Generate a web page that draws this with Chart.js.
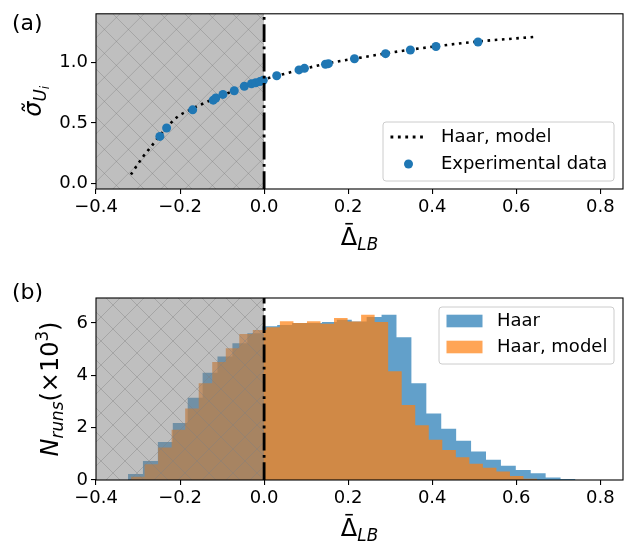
<!DOCTYPE html>
<html>
<head>
<meta charset="utf-8">
<script src="https://cdn.jsdelivr.net/npm/chart.js@4.4.0/dist/chart.umd.min.js"></script>
<style>
  html, body { margin: 0; padding: 0; background: #fff; }
  #wrap { position: relative; width: 641px; height: 551px; }
  #wrap canvas { position: absolute; left: 0; }
  #topChart { top: 0; }
  #bottomChart { top: 270px; }
</style>
</head>
<body>
<div id="wrap">
  <canvas id="topChart" width="641" height="270"></canvas>
  <canvas id="bottomChart" width="641" height="281"></canvas>
</div>
<script>
const FONT = '"DejaVu Sans", sans-serif';
const X_MIN = -0.4;
const X_MAX = 0.854;
const X_TICKS = [-0.4, -0.2, 0.0, 0.2, 0.4, 0.6, 0.8];
const SHADE_FROM = -0.4;
const SHADE_TO = 0.0;

// (a) model curve and measured points
const MODEL_X = [-0.317, -0.290, -0.266, -0.248, -0.209, -0.168, -0.125, -0.086, -0.040, 0.000,
                 0.040, 0.078, 0.150, 0.241, 0.320, 0.405, 0.509, 0.580, 0.642];
const MODEL_Y = [0.074, 0.212, 0.317, 0.397, 0.542, 0.622, 0.690, 0.746, 0.808, 0.860,
                 0.897, 0.931, 0.990, 1.045, 1.090, 1.130, 1.172, 1.192, 1.209];
const EXP_X = [-0.248, -0.232, -0.170, -0.121, -0.115, -0.098, -0.071, -0.047, -0.030, -0.020, -0.010,
               -0.002, 0.030, 0.083, 0.096, 0.146, 0.153, 0.215, 0.289, 0.348, 0.409, 0.509];
const EXP_Y = [0.389, 0.458, 0.608, 0.688, 0.706, 0.735, 0.765, 0.802, 0.823, 0.831, 0.841,
               0.852, 0.889, 0.937, 0.950, 0.984, 0.989, 1.029, 1.071, 1.101, 1.130, 1.167];
const SIGMA_TICKS = [0.0, 0.5, 1.0];

// (b) histograms, counts in thousands
const HAAR_EDGES = [-0.3238, -0.2883, -0.2528, -0.2173, -0.1818, -0.1463, -0.1109, -0.0754, -0.0399, -0.0044,
                    0.0311, 0.0666, 0.1021, 0.1376, 0.1731, 0.2086, 0.2440, 0.2795, 0.3150, 0.3505,
                    0.3860, 0.4215, 0.4570, 0.4925, 0.5280, 0.5635, 0.5989, 0.6344, 0.6699, 0.7054, 0.7409];
const HAAR_COUNTS = [0.23, 0.73, 1.45, 2.18, 3.14, 4.10, 4.72, 5.22, 5.60, 5.87,
                     5.92, 6.00, 6.00, 6.03, 6.12, 6.05, 6.22, 6.31, 5.45, 3.69,
                     2.54, 1.96, 1.50, 1.09, 0.77, 0.54, 0.38, 0.26, 0.10, 0.04];
const MODEL_EDGES = [-0.3166, -0.2844, -0.2522, -0.2200, -0.1878, -0.1556, -0.1234, -0.0912, -0.0590, -0.0268,
                     0.0054, 0.0376, 0.0698, 0.1020, 0.1342, 0.1664, 0.1986, 0.2308, 0.2630, 0.2952,
                     0.3274, 0.3596, 0.3918, 0.4240, 0.4562, 0.4884, 0.5206, 0.5528, 0.5850, 0.6172, 0.6494];
const MODEL_COUNTS = [0.12, 0.60, 1.24, 1.92, 2.73, 3.69, 4.51, 5.03, 5.58, 5.73,
                      5.83, 6.06, 6.00, 6.06, 5.97, 6.19, 6.05, 6.31, 6.03, 4.15,
                      2.86, 2.09, 1.54, 1.15, 0.87, 0.62, 0.47, 0.32, 0.15, 0.05];
const N_TICKS = [0, 2, 4, 6];

function fmtTick(v, digits) {
  return v.toFixed(digits).replace('-', '\u2212');
}

function histPoints(edges, counts) {
  return edges.map((x, i) => ({ x: x, y: i < counts.length ? counts[i] : 0 }));
}

// draw a run of text pieces, each with its own size / style / shift
function drawRich(ctx, parts, x, y, align) {
  let total = 0;
  parts.forEach(p => {
    ctx.font = (p.it ? 'italic ' : '') + p.size + 'px ' + FONT;
    p.w = ctx.measureText(p.t).width;
    total += p.w;
  });
  let cx = align === 'center' ? x - total / 2 : x;
  ctx.textBaseline = 'alphabetic';
  ctx.textAlign = 'left';
  parts.forEach(p => {
    ctx.font = (p.it ? 'italic ' : '') + p.size + 'px ' + FONT;
    ctx.fillText(p.t, cx, y + (p.dy || 0));
    if (p.bar) {
      // overbar, as in \bar{}
      ctx.fillRect(cx + p.w * 0.27, y - p.size * 0.92, p.w * 0.46, 1.6);
    }
    cx += p.w;
  });
}

function drawShade(chart) {
  const { ctx, chartArea: a, scales: { x } } = chart;
  const x0 = Math.max(a.left, x.getPixelForValue(SHADE_FROM));
  const x1 = x.getPixelForValue(SHADE_TO);
  const h = a.bottom - a.top;
  ctx.save();
  ctx.beginPath();
  ctx.rect(x0, a.top, x1 - x0, h);
  ctx.clip();
  ctx.fillStyle = 'rgba(128,128,128,0.5)';
  ctx.fillRect(x0, a.top, x1 - x0, h);
  ctx.strokeStyle = 'rgba(128,128,128,0.4)';
  ctx.lineWidth = 1;
  const step = 24;
  ctx.beginPath();
  for (let c = x0 - h - step; c < x1 + h + step; c += step) {
    ctx.moveTo(c, a.bottom);
    ctx.lineTo(c + h, a.top);
    ctx.moveTo(c, a.top);
    ctx.lineTo(c + h, a.bottom);
  }
  ctx.stroke();
  ctx.restore();
}

function drawZeroLine(chart) {
  const { ctx, chartArea: a, scales: { x } } = chart;
  const px = x.getPixelForValue(SHADE_TO);
  ctx.save();
  ctx.strokeStyle = '#000';
  ctx.lineWidth = 2.8;
  ctx.setLineDash([17.8, 4.4, 2.8, 4.4]);
  ctx.beginPath();
  ctx.moveTo(px, a.bottom);
  ctx.lineTo(px, a.top);
  ctx.stroke();
  ctx.restore();
}

function drawFrame(chart) {
  const { ctx, chartArea: a } = chart;
  ctx.save();
  ctx.strokeStyle = '#000';
  ctx.lineWidth = 1.1;
  ctx.strokeRect(a.left, a.top, a.right - a.left, a.bottom - a.top);
  ctx.restore();
}

function legendBox(ctx, x, y, w, h) {
  const r = 3;
  ctx.save();
  ctx.beginPath();
  ctx.moveTo(x + r, y);
  ctx.arcTo(x + w, y, x + w, y + h, r);
  ctx.arcTo(x + w, y + h, x, y + h, r);
  ctx.arcTo(x, y + h, x, y, r);
  ctx.arcTo(x, y, x + w, y, r);
  ctx.closePath();
  ctx.fillStyle = 'rgba(255,255,255,0.8)';
  ctx.fill();
  ctx.strokeStyle = '#cccccc';
  ctx.lineWidth = 1;
  ctx.stroke();
  ctx.restore();
}

function xLabel(ctx, chart, yBase) {
  const a = chart.chartArea;
  ctx.fillStyle = '#000';
  drawRich(ctx, [
    { t: '\u0394', size: 24, bar: true },
    { t: 'LB', size: 16.8, it: true, dy: 5 }
  ], (a.left + a.right) / 2, yBase, 'center');
}

function axisTicks(ticks, digits) {
  return {
    afterBuildTicks: s => { s.ticks = ticks.map(v => ({ value: v })); },
    ticks: {
      autoSkip: false, maxRotation: 0, color: '#000',
      font: { family: FONT, size: 18 },
      callback: v => fmtTick(v, digits)
    },
    grid: { display: true, drawOnChartArea: false, drawTicks: true, tickLength: 5, color: '#000', lineWidth: 1.1 },
    border: { display: false }
  };
}

function renderTop() {
  const overlay = {
    id: 'overlayTop',
    beforeDatasetsDraw(chart) { drawShade(chart); },
    afterDatasetsDraw(chart) { drawZeroLine(chart); drawFrame(chart); },
    afterDraw(chart) {
      const { ctx, chartArea: a } = chart;
      ctx.save();
      // legend
      const bx = a.right - 9 - 231, by = a.bottom - 8 - 59;
      legendBox(ctx, bx, by, 231, 59);
      const hx = bx + 7.5, r1 = by + 15, r2 = by + 42;
      ctx.strokeStyle = '#000';
      ctx.lineWidth = 2.8;
      ctx.setLineDash([2.8, 4.6]);
      ctx.beginPath(); ctx.moveTo(hx, r1); ctx.lineTo(hx + 36, r1); ctx.stroke();
      ctx.setLineDash([]);
      ctx.fillStyle = '#1f77b4';
      ctx.beginPath(); ctx.arc(hx + 18, r2, 4.5, 0, Math.PI * 2); ctx.fill();
      ctx.fillStyle = '#000';
      ctx.font = '18px ' + FONT;
      ctx.textBaseline = 'middle';
      ctx.textAlign = 'left';
      ctx.fillText('Haar, model', hx + 50.4, r1);
      ctx.fillText('Experimental data', hx + 50.4, r2);
      // axis labels
      xLabel(ctx, chart, 245);
      ctx.save();
      ctx.translate(41, (a.top + a.bottom) / 2);
      ctx.rotate(-Math.PI / 2);
      drawRich(ctx, [
        { t: '\u03c3\u0303', size: 24, it: true },
        { t: 'U', size: 16.8, it: true, dy: 5 },
        { t: 'i', size: 11.8, it: true, dy: 8 }
      ], 0, 0, 'center');
      ctx.restore();
      ctx.font = '22px ' + FONT;
      ctx.textBaseline = 'alphabetic';
      ctx.fillText('(a)', 12, 30);
      ctx.restore();
    }
  };
  new Chart(document.getElementById('topChart'), {
    type: 'scatter',
    data: {
      datasets: [{
        label: 'Experimental data',
        data: EXP_X.map((x, i) => ({ x: x, y: EXP_Y[i] })),
        backgroundColor: '#1f77b4',
        borderColor: '#1f77b4',
        pointRadius: 4.5,
        pointBorderWidth: 0,
        order: 1
      }, {
        label: 'Haar, model',
        data: MODEL_X.map((x, i) => ({ x: x, y: MODEL_Y[i] })),
        showLine: true,
        borderColor: '#000',
        borderWidth: 2.6,
        borderDash: [2.6, 4.6],
        borderCapStyle: 'butt',
        pointRadius: 0,
        cubicInterpolationMode: 'monotone',
        fill: false,
        order: 2
      }]
    },
    options: {
      responsive: false,
      animation: false,
      events: [],
      layout: { padding: { top: 7, right: 18, left: 0, bottom: 0 } },
      plugins: { legend: { display: false }, tooltip: { enabled: false } },
      scales: {
        x: Object.assign({ type: 'linear', min: X_MIN, max: X_MAX,
          afterFit: s => { s.height = 81; } }, axisTicks(X_TICKS, 1)),
        y: Object.assign({ type: 'linear', min: -0.045, max: 1.40,
          afterFit: s => { s.width = 96; } }, axisTicks(SIGMA_TICKS, 1))
      }
    },
    plugins: [overlay]
  });
}

function renderBottom() {
  const overlay = {
    id: 'overlayBottom',
    afterDatasetsDraw(chart) { drawShade(chart); drawZeroLine(chart); drawFrame(chart); },
    afterDraw(chart) {
      const { ctx, chartArea: a } = chart;
      ctx.save();
      const bx = a.right - 9 - 175, by = a.top + 9;
      legendBox(ctx, bx, by, 175, 57);
      const hx = bx + 7.5, r1 = by + 14, r2 = by + 40;
      ctx.fillStyle = 'rgba(31,119,180,0.7)';
      ctx.fillRect(hx, r1 - 6.3, 36, 12.6);
      ctx.fillStyle = 'rgba(255,127,14,0.7)';
      ctx.fillRect(hx, r2 - 6.3, 36, 12.6);
      ctx.fillStyle = '#000';
      ctx.font = '18px ' + FONT;
      ctx.textBaseline = 'middle';
      ctx.textAlign = 'left';
      ctx.fillText('Haar', hx + 50.4, r1);
      ctx.fillText('Haar, model', hx + 50.4, r2);
      xLabel(ctx, chart, 266);
      ctx.save();
      ctx.translate(58, (a.top + a.bottom) / 2);
      ctx.rotate(-Math.PI / 2);
      drawRich(ctx, [
        { t: 'N', size: 24, it: true },
        { t: 'runs', size: 16.8, it: true, dy: 5 },
        { t: '(\u00d710', size: 24 },
        { t: '3', size: 16.8, dy: -10 },
        { t: ')', size: 24 }
      ], 0, 0, 'center');
      ctx.restore();
      ctx.font = '22px ' + FONT;
      ctx.textBaseline = 'alphabetic';
      ctx.fillText('(b)', 12, 29);
      ctx.restore();
    }
  };
  new Chart(document.getElementById('bottomChart'), {
    type: 'line',
    data: {
      datasets: [{
        label: 'Haar, model',
        data: histPoints(MODEL_EDGES, MODEL_COUNTS),
        stepped: true,
        fill: 'origin',
        backgroundColor: 'rgba(255,127,14,0.7)',
        borderWidth: 0,
        pointRadius: 0,
        order: 1
      }, {
        label: 'Haar',
        data: histPoints(HAAR_EDGES, HAAR_COUNTS),
        stepped: true,
        fill: 'origin',
        backgroundColor: 'rgba(31,119,180,0.7)',
        borderWidth: 0,
        pointRadius: 0,
        order: 2
      }]
    },
    options: {
      responsive: false,
      animation: false,
      events: [],
      layout: { padding: { top: 28, right: 18, left: 0, bottom: 0 } },
      plugins: { legend: { display: false }, tooltip: { enabled: false } },
      scales: {
        x: Object.assign({ type: 'linear', min: X_MIN, max: X_MAX,
          afterFit: s => { s.height = 71; } }, axisTicks(X_TICKS, 1)),
        y: Object.assign({ type: 'linear', min: 0, max: 6.95,
          afterFit: s => { s.width = 96; } }, axisTicks(N_TICKS, 0))
      }
    },
    plugins: [overlay]
  });
}

document.addEventListener('DOMContentLoaded', function () {
  renderTop();
  renderBottom();
});
</script>
</body>
</html>
